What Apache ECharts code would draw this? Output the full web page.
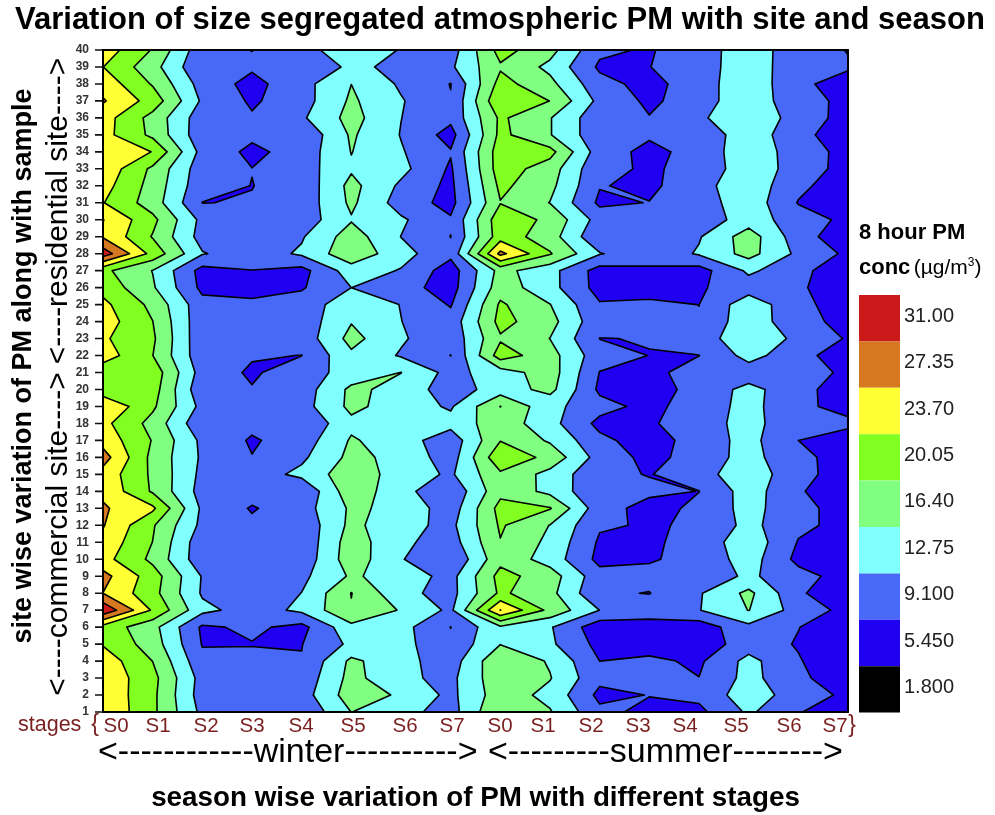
<!DOCTYPE html>
<html><head><meta charset="utf-8">
<style>html,body{margin:0;padding:0;background:#fff}#c{width:995px;height:815px}</style>
<script src="https://cdn.jsdelivr.net/npm/echarts@6/dist/echarts.min.js"></script>
</head><body><div id="c"></div>
<script>
// PM concentration: one array per sample row, 16 stages (winter S0-S7, summer S0-S7)
const r40=[25.7,19.8,10.3,9.05,11.7,14.5,12.6,11,21.4,17.65,9.86,8.7,11.8,13.9,11.55,8.9];
const r39=[23.75,17.8,9.5,9.6,9.9,13.5,11.9,12.15,19.6,15.5,8.5,9,11.85,13.9,11.5,9.6];
const r38=[26,19.7,11.2,8,11.4,16.38,12.2,9,21.4,17.4,10.3,7.9,11.1,15.2,10,7.3];
const r37=[27.7,22.2,12.15,8.6,11.2,17,13.05,9.3,23.4,20,11.7,8.4,10.95,15.45,10.05,8.5];
const r36=[25.3,18.8,10.6,9.45,12.2,17.7,12.8,10,20.7,16.6,10.2,9.25,12,16.1,10.9,7.9];
const r35=[25,19.2,10.3,9.8,9.7,16.9,12.6,7.7,21,16.6,10.2,9.6,10.7,14.5,10.8,5.8];
const r34=[26.5,23.6,11.4,8.3,10.55,16.5,13.05,9.37,22,21.3,10.8,8.1,10.4,15.1,11,7.9];
const r33=[26.3,19.3,10.6,9.15,10.95,15.95,13.8,8.6,22,18.2,9.7,8.8,9.8,15.3,11,7.8];
const r32=[25.1,18.7,10.2,9.05,10.15,17.5,12.1,8.2,20.9,17.4,9.3,8.3,11.5,15.1,10,6.8];
const r31=[23.85,18.3,9.05,9.25,10.4,17.1,11.1,7.9,19.9,16.3,8.4,9.2,10.9,15,8.9,6.5];
const r30=[27.45,21,11.7,10,10.6,16.1,13.3,9.5,22.4,19.2,11.2,10.5,10.4,14.6,10.9,8.2];
const r29=[27,19.8,11.3,10.5,12.4,18.2,12.7,9.05,22.1,18.1,9.6,9.8,12.45,18.25,10.7,6.7];
const r28=[33,22.4,13,10.7,13.3,19,14.1,10,28.3,20.35,13,10.2,13.14,17.7,11.9,8.4];
const r27=[20.9,16.3,7.8,9.03,7.9,14.6,12.5,7.3,17.6,14,7.6,8.7,7.6,13.4,10.4,6];
const r26=[22.5,16.85,8.2,7.5,8.75,12.75,10.5,7.5,18.4,14,7.75,8,8.7,11,9.8,6.1];
const r25=[24.6,19.1,10.3,10,10.7,15,12.65,8.8,20.6,16.5,9.4,9.6,9.08,15,10.1,7.3];
const r24=[25.5,20.1,10.15,10,10.5,16.2,12.8,10.5,21.2,17.7,10.1,10,9.3,15.25,10,8.3];
const r23=[24.2,20.65,10,10,10.5,17.6,13.2,10.2,19.6,16.35,9.05,9.18,10.7,15.6,11.85,8.76];
const r22=[25.5,20.1,10.25,9.4,9.05,15.7,12.4,9.05,21.8,17.85,10.5,9.05,9.05,14,10.5,6.8];
const r21=[21.3,22.3,11.1,8.6,11,14.2,16.45,11.5,14.7,18.2,9,7.9,11,10.9,9.8,8.8];
const r20=[21.4,21.7,10,9.3,10.85,17.2,15.25,10.7,14.6,17.5,8.4,7.2,10.6,13.76,10.7,6.5];
const r19=[27,20.7,11.6,10,11.25,17.3,14.6,12.3,20.1,13.85,10.4,8,11,13.8,10.3,7.3];
const r18=[24.75,18.8,9.9,10,9.5,15.5,14,14,18.6,14,8.1,8.7,10.8,14.3,9.6,10.3];
const r17=[26,19.85,11.9,8.7,10.8,16.8,14.5,10.5,19.9,15.9,10,7.3,10.8,13.95,9.1,6.5];
const r16=[28.9,19,12.2,9.2,12.05,17.4,15.3,10.9,22.9,18.9,11.2,8.07,10.5,14.25,9.55,8.35];
const r15=[26,19.4,11.8,10.8,13.7,18.7,14.7,12.2,19.4,15.2,9.9,8.95,10.8,15.9,9.3,8.8];
const r14=[26.6,19.6,11.3,10.5,9.4,18.8,14,9.8,19,15.4,9.6,9.8,9.05,14.5,9.6,6];
const r13=[27.8,24.4,12,8.8,11.1,17,15.5,10.7,21.3,20.3,10.5,7.9,9.8,14.1,10.1,7.7];
const r12=[27.6,20.45,11.8,9.8,10.05,17.35,13.9,11.8,20.5,16.3,9.5,8.8,9.5,13.85,9.85,8.05];
const r11=[26.2,20,10.3,10,9.95,18.3,13.5,11,19.9,15.5,8.6,8.55,10.3,15.2,8.9,6.5];
const r10=[25,19.2,10.3,10,10.26,18.55,13,9.3,19,14.8,8.1,8.8,10.1,14.5,8.1,6.5];
const r09=[28.55,21.8,12.5,10.5,11.9,16.9,14.8,11.5,21.3,18.2,10.4,10,10.5,13.4,10.45,7.5];
const r08=[27.3,21.3,12.3,10.2,12.8,20.15,13.7,11.5,20.7,17.5,9.5,9,12.4,17.3,9.7,6];
const r07=[33.9,23.2,13.75,11.1,13.5,19.8,16.1,12,27.4,19,12.7,10.8,12.6,16.5,11.15,8];
const r06=[22.3,17.6,8.5,9.8,8,15.4,14,9.05,15.8,13.1,6.8,7.6,7,11.8,9.2,6.5];
const r05=[23.4,18.3,8.9,8.95,9,13.5,14,9.8,16.3,13.4,8,7.5,6.9,11,8.8,7];
const r04=[25.9,20,10,10,9.25,17.2,13.9,10.9,19.5,16,9.1,9.8,8.5,13.9,9.4,6];
const r03=[26.4,21.2,11.3,10,10.27,17.6,13.5,11.8,19,16.6,10,10,9.15,13.95,9.8,7.1];
const r02=[26.6,20.9,11,10,11.05,18.3,15.9,11.8,18.4,15.3,8.2,9.2,10,14.9,10.8,8.4];
const r01=[26.9,20.85,11.8,10,9.6,16.45,14,11.2,20.07,16.7,9.9,8.3,8.2,13.35,9.35,6.6];
const rows=[r01,r02,r03,r04,r05,r06,r07,r08,r09,r10,r11,r12,r13,r14,r15,r16,r17,r18,r19,r20,
            r21,r22,r23,r24,r25,r26,r27,r28,r29,r30,r31,r32,r33,r34,r35,r36,r37,r38,r39,r40];

const legendLabels=['31.00','27.35','23.70','20.05','16.40','12.75','9.100','5.450','1.800'];
const bandColors=['#cc1a1a','#d67820','#ffff33','#80ff20','#80ff80','#80ffff','#4868f8','#2000f0','#000000'];
const levels=[5.45,9.1,12.75,16.4,20.05,23.7,27.35,31];
const stageLabels=['S0','S1','S2','S3','S4','S5','S6','S7','S0','S1','S2','S3','S4','S5','S6','S7'];
const stageLabelX=[116,158,206,252,301,353,405,452,500,543,591,638,685,736,789,835];

function cellContours(v,p,L){
  const hi=v.map(x=>x>=L), n=hi.filter(Boolean).length, polys=[], segs=[];
  if(n===0) return {polys,segs};
  if(n===4){polys.push(p.slice());return {polys,segs};}
  const cross=k=>{const m=(k+1)%4,t=(L-v[k])/(v[m]-v[k]);
    return [p[k][0]+t*(p[m][0]-p[k][0]),p[k][1]+t*(p[m][1]-p[k][1])];};
  const saddle=n===2&&hi[0]===hi[2];
  const mean=(v[0]+v[1]+v[2]+v[3])/4;
  if(saddle&&mean>=L){
    for(let k=0;k<4;k++) if(hi[k]){
      const a=cross(k),b=cross((k+3)%4);
      polys.push([p[k],a,b]);segs.push([a,b]);
    }
    return {polys,segs};
  }
  const poly=[],edges=[];
  for(let k=0;k<4;k++){
    if(hi[k]) poly.push(p[k]);
    if(hi[k]!==hi[(k+1)%4]){const c=cross(k);poly.push(c);edges.push({c,out:hi[k]});}
  }
  polys.push(poly);
  const s=edges.findIndex(e=>e.out);
  for(let j=0;j<edges.length;j+=2){
    segs.push([edges[(s+j)%edges.length].c,edges[(s+j+1)%edges.length].c]);
  }
  return {polys,segs};
}
function fmt(q){return q[0].toFixed(2)+' '+q[1].toFixed(2);}
function renderContours(params,api){
  const children=[],lines=[];
  const nr=rows.length,nc=rows[0].length;
  levels.forEach((L,li)=>{
    let d='';
    for(let r=0;r<nr-1;r++)for(let c=0;c<nc-1;c++){
      const v=[rows[r][c],rows[r][c+1],rows[r+1][c+1],rows[r+1][c]];
      const p=[api.coord([c,r+1]),api.coord([c+1,r+1]),api.coord([c+1,r+2]),api.coord([c,r+2])];
      const res=cellContours(v,p,L);
      res.polys.forEach(po=>{d+='M'+po.map(fmt).join('L')+'Z';});
      res.segs.forEach(s=>lines.push('M'+fmt(s[0])+'L'+fmt(s[1])));
    }
    if(d) children.push({type:'path',shape:{pathData:d},style:{fill:bandColors[bandColors.length-2-li],stroke:null}});
  });
  children.push({type:'path',shape:{pathData:lines.join('')},
    style:{fill:'none',stroke:'#000',lineWidth:1.6,lineCap:'round',lineJoin:'round'}});
  return {type:'group',children};
}
function renderTicks(params,api){
  let d='';
  rows.forEach((_,r)=>{
    const q=api.coord([0,r+1]);
    d+='M'+(q[0]-8)+' '+q[1].toFixed(2)+'L'+q[0]+' '+q[1].toFixed(2);
  });
  return {type:'path',shape:{pathData:d},style:{fill:'none',stroke:'#111',lineWidth:1.6}};
}

const sans='"Liberation Sans",Arial,sans-serif';
const graphics=[];
function addText(text,x,y,size,opt){
  opt=opt||{};
  graphics.push({type:'text',x,y,rotation:opt.rot||0,silent:true,z:10,
    style:{text,fill:opt.fill||'#000',font:(opt.bold?'bold ':'')+size+'px '+sans,
      align:opt.align||'center',verticalAlign:'middle'}});
}
stageLabels.forEach((s,i)=>addText(s,stageLabelX[i],726,20.5,{fill:'#7a1f1f'}));
addText('stages',18,725,21.5,{fill:'#7a1f1f',align:'left'});
addText('{',95,725,23,{fill:'#7a1f1f'});
addText('}',852,726,23,{fill:'#7a1f1f'});
addText('<------------winter---------->',98,753,34,{align:'left'});
addText('<---------summer-------->',488,753,34,{align:'left'});
addText('<----commercial site---->',59,534,30,{rot:Math.PI/2});
addText('<----residential site---->',59,211,30,{rot:Math.PI/2});
addText('8 hour PM',859,233,22,{bold:true,align:'left'});
graphics.push({type:'text',x:859,y:268,silent:true,z:10,style:{
  text:'{b|conc} {r|(µg/m}{s|3}{r|)}',align:'left',verticalAlign:'middle',fill:'#000',
  rich:{b:{font:'bold 22px '+sans},r:{font:'21px '+sans},s:{font:'12px '+sans,verticalAlign:'top',padding:[0,0,9,0]}}}});
legendLabels.forEach((t,i)=>{
  graphics.push({type:'rect',shape:{x:859,y:295+i*46.4,width:41,height:46.4},style:{fill:bandColors[i]},silent:true,z:10});
  addText(t,904,295+(i+0.5)*46.4-2,20,{align:'left',fill:'#222'});
});

const frameAxisX={type:'value',min:0,max:15,interval:15,z:6,axisLabel:{show:false},axisTick:{show:false},splitLine:{show:false},
  axisLine:{show:true,onZero:false,lineStyle:{color:'#000',width:2}}};
const frameAxisY={type:'value',min:1,max:40,interval:1,z:6,splitLine:{show:false},
  axisLine:{show:true,onZero:false,lineStyle:{color:'#000',width:2}}};

const chart=echarts.init(document.getElementById('c'),null,{renderer:'canvas'});
chart.setOption({
  animation:false,
  backgroundColor:'#fff',
  title:{text:'Variation of size segregated atmospheric PM with site and season',left:10,top:0,
    textStyle:{fontFamily:sans,fontWeight:'bold',fontSize:31,color:'#000'}},
  grid:{left:103,right:147,top:50,bottom:103,show:false,outerBoundsMode:'none'},
  xAxis:[
    Object.assign({},frameAxisX,{position:'bottom',name:'season wise variation of PM with different stages',nameLocation:'middle',nameGap:72,
      nameTextStyle:{fontFamily:sans,fontWeight:'bold',fontSize:27.8,color:'#000'}}),
    Object.assign({},frameAxisX,{position:'top'})
  ],
  yAxis:[
    Object.assign({},frameAxisY,{position:'left',
      axisTick:{show:false},
      axisLabel:{show:true,margin:14,fontFamily:sans,fontWeight:'bold',fontSize:12,color:'#333'},
      name:'site wise variation of PM along with sample',nameLocation:'middle',nameGap:66,
      nameTextStyle:{fontFamily:sans,fontWeight:'bold',fontSize:27,color:'#000',padding:[0,0,0,30]}}),
    Object.assign({},frameAxisY,{position:'right',interval:39,axisTick:{show:false},axisLabel:{show:false}})
  ],
  graphic:{elements:graphics},
  series:[
    {type:'custom',coordinateSystem:'cartesian2d',xAxisIndex:0,yAxisIndex:0,silent:true,clip:true,z:2,
      data:[[0,1]],renderItem:renderContours},
    {type:'custom',coordinateSystem:'cartesian2d',xAxisIndex:0,yAxisIndex:0,silent:true,clip:false,z:3,
      data:[[0,1]],renderItem:renderTicks}
  ]
});
</script></body></html>
